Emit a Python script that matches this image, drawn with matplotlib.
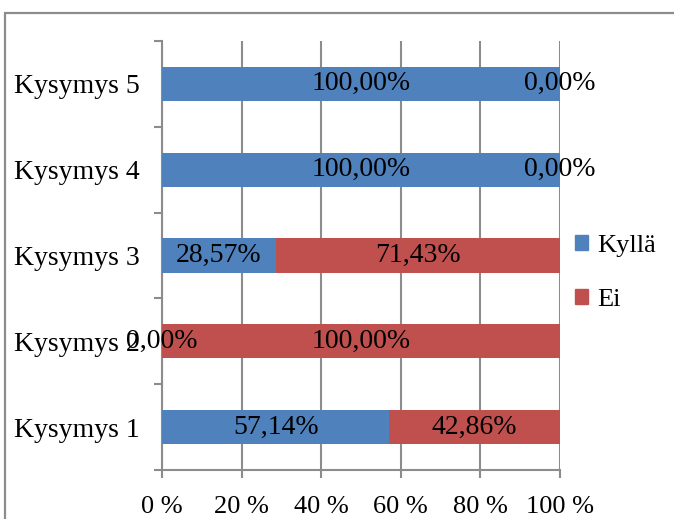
import matplotlib
matplotlib.use("Agg")
import matplotlib.pyplot as plt
from matplotlib.patches import Rectangle, Patch

# ── DATA ───────────────────────────────────────────────────
questions = ["Kysymys 1", "Kysymys 2", "Kysymys 3", "Kysymys 4", "Kysymys 5"]
kylla     = [57.14, 0.00, 28.57, 100.00, 100.00]
ei        = [42.86, 100.00, 71.43, 0.00, 0.00]
series    = ["Kyllä", "Ei"]
xticks    = [0, 20, 40, 60, 80, 100]

BLUE = "#4F81BD"
RED  = "#C0504D"
GRID = "#8C8C8C"

plt.rcParams["font.family"] = ["Liberation Serif", "DejaVu Serif"]
FS = 20

fig = plt.figure(figsize=(6.74, 5.19), dpi=100)
ax = fig.add_axes([162/674, 1 - 470/519, 398/674, 429/519])

# ── OUTER BORDER (cut off at right and bottom) ─────────────
fig.patches.append(Rectangle((5/674, -0.1), 1.2, 1.1 - 13/519,
                             transform=fig.transFigure, fill=False,
                             edgecolor=GRID, linewidth=1.6, zorder=0))

y = range(len(questions))
ax.barh(y, kylla, height=0.4, color=BLUE, zorder=3)
ax.barh(y, ei, left=kylla, height=0.4, color=RED, zorder=3)

# ── DATA LABELS ────────────────────────────────────────────
for i in y:
    k, e = kylla[i], ei[i]
    ax.text(k / 2, i, f"{k:.2f}%".replace(".", ","), ha="center", va="center",
            fontsize=FS, zorder=5)
    ax.text(k + e / 2, i, f"{e:.2f}%".replace(".", ","), ha="center", va="center",
            fontsize=FS, zorder=5)

ax.set_xlim(0, 100)
ax.set_ylim(-0.5, 4.5)
ax.set_xticks(xticks)
ax.set_xticklabels([f"{t} %" for t in xticks], fontsize=19)
ax.set_yticks([-0.5, 0.5, 1.5, 2.5, 3.5, 4.5])
ax.set_yticklabels([])
ax.set_yticks(list(y), minor=True)
ax.set_yticklabels(questions, minor=True, fontsize=FS)
ax.tick_params(axis="y", which="minor", length=0, pad=16)
ax.tick_params(axis="y", which="major", length=6, width=1.5, color=GRID)
ax.tick_params(axis="x", length=6, width=1.5, color=GRID, pad=13)

ax.grid(axis="x", color=GRID, linewidth=1.5, zorder=0)
for s in ["top", "right"]:
    ax.spines[s].set_visible(False)
for s in ["left", "bottom"]:
    ax.spines[s].set_color(GRID)
    ax.spines[s].set_linewidth(1.5)

handles = [Patch(color=BLUE), Patch(color=RED)]
fig.legend(handles, series, loc="center left", bbox_to_anchor=(570/674, 1 - 273/519),
           frameon=False, fontsize=19, handlelength=0.5, handleheight=0.5,
           handletextpad=0.35, labelspacing=1.2, borderaxespad=0, borderpad=0.2)

fig.savefig("out.png", dpi=100)
